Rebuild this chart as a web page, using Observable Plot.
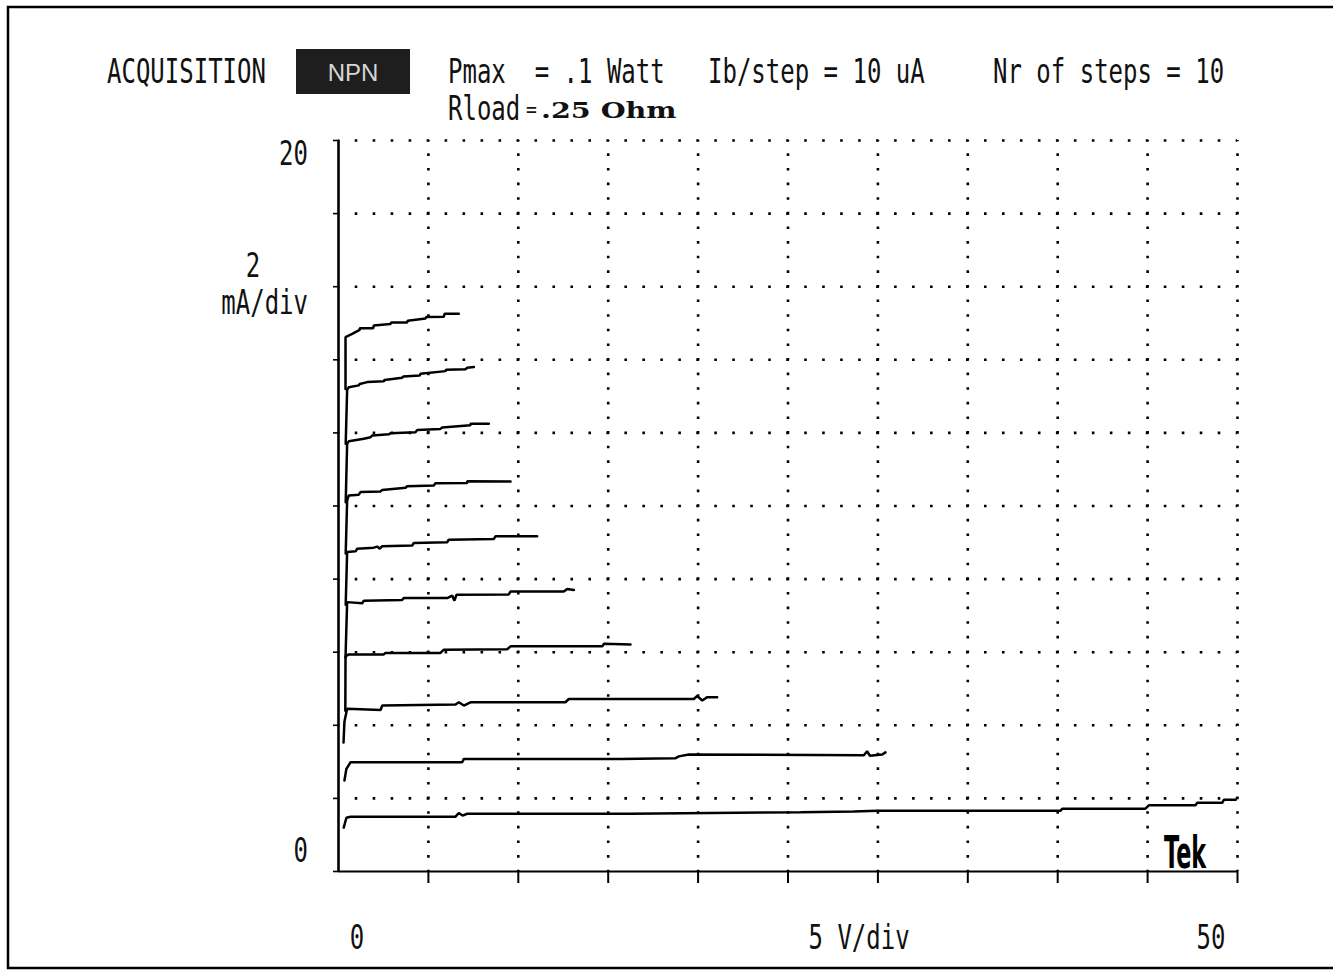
<!DOCTYPE html>
<html><head><meta charset="utf-8">
<script src="https://cdn.jsdelivr.net/npm/d3@7"></script>
<script src="https://cdn.jsdelivr.net/npm/@observablehq/plot@0.6"></script>
<style>body{margin:0;background:#fff;overflow:hidden;} #chart svg{display:block;} text{white-space:pre;}</style>
</head><body><div id="chart"></div>
<script>
// Collector current (mA) vs collector-emitter voltage (V), one array per base-current step
const curve1 = [[0.29,1.20],[0.44,1.47],[0.67,1.50],[6.51,1.50],[6.69,1.60],[6.90,1.53],[7.16,1.58],[16.2,1.58],[25.7,1.62],[28.66,1.64],[29.96,1.66],[40.16,1.66],[40.25,1.72],[44.88,1.72],[45.07,1.81],[47.66,1.81],[47.76,1.88],[49.15,1.88],[49.24,1.96],[49.9,1.96]];
const curve2 = [[0.33,2.49],[0.44,2.81],[0.67,2.99],[6.88,2.99],[6.97,3.08],[15.68,3.08],[18.75,3.10],[18.93,3.15],[19.48,3.20],[29.22,3.18],[29.40,3.29],[29.55,3.17],[30.24,3.20],[30.42,3.26]];
const curve3 = [[0.28,3.53],[0.33,4.10],[0.48,4.45],[2.34,4.42],[2.43,4.54],[6.51,4.57],[6.69,4.63],[6.97,4.54],[7.34,4.63],[12.62,4.63],[12.81,4.72],[19.76,4.72],[19.95,4.80],[20.23,4.68],[20.51,4.77],[21.06,4.77]];
const curve4 = [[0.38,4.40],[0.39,5.88],[0.57,5.94],[2.52,5.94],[2.61,5.98],[5.67,5.98],[5.86,6.07],[9.38,6.08],[9.57,6.16],[14.67,6.16],[14.76,6.23],[16.24,6.21]];
const curve5 = [[0.39,5.85],[0.48,7.37],[1.32,7.34],[1.41,7.41],[3.54,7.43],[3.63,7.48],[6.05,7.48],[6.32,7.55],[6.45,7.41],[6.56,7.57],[9.47,7.58],[9.57,7.66],[12.53,7.66],[12.72,7.73],[13.09,7.70]];
const curve6 = [[0.40,7.30],[0.48,8.74],[0.95,8.76],[1.04,8.83],[1.96,8.86],[2.15,8.89],[2.30,8.83],[2.43,8.90],[4.10,8.92],[4.19,8.99],[6.05,9.01],[6.13,9.08],[8.64,9.10],[8.73,9.17],[11.05,9.17]];
const curve7 = [[0.40,8.70],[0.48,10.15],[0.57,10.29],[1.13,10.31],[1.22,10.38],[2.34,10.40],[2.43,10.44],[3.73,10.50],[3.82,10.54],[5.30,10.56],[5.39,10.62],[7.16,10.63],[7.16,10.68],[9.57,10.67]];
const curve8 = [[0.40,10.10],[0.48,11.70],[0.57,11.77],[1.41,11.84],[1.78,11.88],[1.87,11.93],[2.80,11.96],[2.89,11.99],[4.28,12.02],[4.38,12.08],[5.67,12.11],[5.77,12.15],[7.34,12.21],[7.34,12.25],[8.36,12.25]];
const curve9 = [[0.40,11.70],[0.48,13.18],[0.57,13.25],[1.13,13.30],[1.18,13.34],[1.60,13.39],[2.52,13.41],[2.56,13.45],[3.54,13.51],[3.60,13.54],[4.52,13.57],[4.56,13.62],[5.95,13.69],[5.99,13.73],[7.06,13.74],[7.16,13.78],[7.53,13.80]];
const curve10 = [[0.39,13.20],[0.39,14.62],[0.76,14.71],[1.18,14.82],[1.18,14.86],[1.93,14.86],[1.96,14.94],[2.89,14.98],[2.93,15.02],[3.82,15.02],[3.85,15.07],[4.84,15.13],[4.88,15.17],[5.86,15.18],[5.90,15.26],[6.69,15.26]];
const curves = [curve1, curve2, curve3, curve4, curve5, curve6, curve7, curve8, curve9, curve10];

const xDivisions = [5, 10, 15, 20, 25, 30, 35, 40, 45, 50];
const yDivisions = [2, 4, 6, 8, 10, 12, 14, 16, 18, 20];
const yTicks = [0, 2, 4, 6, 8, 10, 12, 14, 16, 18, 20];

const headerLeft = "ACQUISITION";
const headerBadge = "NPN";
const headerPmax = "Pmax  = .1 Watt";
const headerIb = "Ib/step = 10 uA";
const headerSteps = "Nr of steps = 10";
const headerRloadName = "Rload";
const headerRloadEq = "=";
const headerRloadValue = ".25 Ohm";
const yTopLabel = "20";
const yScaleValue = "2";
const yScaleUnit = "mA/div";
const yZeroLabel = "0";
const xZeroLabel = "0";
const xScaleLabel = "5 V/div";
const xEndLabel = "50";
const logoText = "Tek";

const rows = curves.flatMap((c, i) => c.map(([v, a]) => ({step: i + 1, v, a})));

const plot = Plot.plot({
  width: 1333, height: 976,
  marginLeft: 338, marginRight: 96, marginTop: 140, marginBottom: 105,
  x: {domain: [0, 50]},
  y: {domain: [0, 20]},
  style: {background: "#fff"},
  marks: [
    Plot.gridY(yDivisions, {stroke: "#000", strokeOpacity: 1, strokeWidth: 2.6, strokeDasharray: "2.6,15.38", strokeDashoffset: 1.3}),
    Plot.gridX(xDivisions, {stroke: "#000", strokeOpacity: 1, strokeWidth: 2.6, strokeDasharray: "2.6,12.02", strokeDashoffset: 1.3}),
    Plot.axisY(yTicks, {tickSize: 5, tickFormat: () => "", stroke: "#000", strokeWidth: 1.6, label: null}),
    Plot.axisX(xDivisions, {tickSize: 12, tickFormat: () => "", stroke: "#000", strokeWidth: 2, label: null}),
    Plot.ruleX([0], {stroke: "#000", strokeWidth: 2.6}),
    Plot.ruleY([0], {stroke: "#000", strokeWidth: 2.2}),
    Plot.line(rows, {x: "v", y: "a", z: "step", stroke: "#000", strokeWidth: 2.5, strokeLinejoin: "miter"})
  ]
});

document.getElementById("chart").appendChild(plot);

const svg = d3.select(plot);
const X = plot.scale("x"), Y = plot.scale("y");
const MONO = "DejaVu Sans Mono";

function label(str, x, y, o = {}) {
  const {anchor = "start", size = 24, sx = 1, sy = 1.43, family = MONO, weight = "normal", fill = "#111"} = o;
  svg.append("text")
    .attr("transform", `translate(${x},${y}) scale(${sx},${sy})`)
    .attr("text-anchor", anchor)
    .attr("font-family", family)
    .attr("font-size", size)
    .attr("font-weight", weight)
    .attr("fill", fill)
    .attr("xml:space", "preserve")
    .text(str);
}

// outer frame of the screen copy
svg.append("rect").attr("x", 8).attr("y", 7).attr("width", 1400).attr("height", 961)
  .attr("fill", "none").attr("stroke", "#000").attr("stroke-width", 2.5);

// header
label(headerLeft, 107, 83);
svg.append("rect").attr("x", 296).attr("y", 49).attr("width", 114).attr("height", 45).attr("fill", "#1e1e1e");
label(headerBadge, 353, 81, {anchor: "middle", family: "Liberation Sans", sy: 1, size: 24, fill: "#d6d6d6"});
label(headerPmax, 448, 83);
label(headerIb, 708, 83);
label(headerSteps, 993, 83);
label(headerRloadName, 448, 120);
label(headerRloadEq, 526, 117, {size: 18, sy: 1.2});
label(headerRloadValue, 541, 118, {family: "DejaVu Serif", weight: "bold", size: 22, sx: 1.3, sy: 1});

// axis annotations
const x0 = X.apply(0), x25 = X.apply(25), x50 = X.apply(50);
const y0 = Y.apply(0), y16 = Y.apply(16), y20 = Y.apply(20);
label(yTopLabel, x0 - 30, y20 + 25, {anchor: "end"});
label(yScaleValue, x0 - 85, y16 - 9, {anchor: "middle"});
label(yScaleUnit, x0 - 30, y16 + 28, {anchor: "end"});
label(yZeroLabel, x0 - 30, y0 - 9, {anchor: "end"});
label(xZeroLabel, x0 + 19, y0 + 78, {anchor: "middle"});
label(xScaleLabel, x25 + 21, y0 + 78);
label(xEndLabel, x50 - 26, y0 + 78, {anchor: "middle"});
label(logoText, x50 - 52, y0 - 3, {anchor: "middle", family: "DejaVu Sans", weight: "bold", size: 31, sx: 0.72, sy: 1.42, fill: "#000"});
</script>
</body></html>
